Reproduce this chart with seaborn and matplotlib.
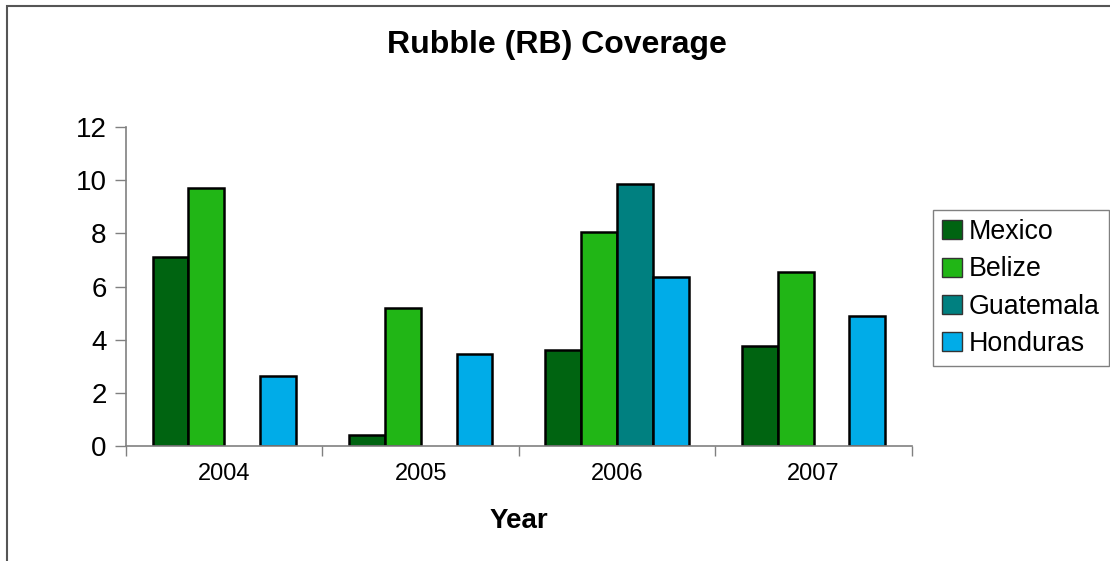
import matplotlib
matplotlib.use("Agg")
import matplotlib.pyplot as plt
from matplotlib.patches import Rectangle
import numpy as np
import pandas as pd
import seaborn as sns

years = ["2004", "2005", "2006", "2007"]
countries = ["Mexico", "Belize", "Guatemala", "Honduras"]
mexico = [7.1, 0.4, 3.6, 3.75]
belize = [9.7, 5.2, 8.05, 6.55]
guatemala = [np.nan, np.nan, 9.85, np.nan]
honduras = [2.65, 3.45, 6.35, 4.9]
colors = ["#006411", "#21B616", "#008080", "#00ACE8"]

df = pd.DataFrame({
    "Year": years * 4,
    "Country": [c for c in countries for _ in years],
    "Coverage": mexico + belize + guatemala + honduras,
})

sns.set_theme(style="white")
plt.rcParams["font.family"] = ["Liberation Sans", "DejaVu Sans"]
plt.rcParams["text.color"] = "black"
plt.rcParams["axes.labelcolor"] = "black"

fig = plt.figure(figsize=(11.1, 5.61), dpi=100)
ax = fig.add_axes([0.1135, 0.205, 0.708, 0.5686])

sns.barplot(data=df, x="Year", y="Coverage", hue="Country", order=years,
            hue_order=countries, palette=colors, width=0.73, saturation=1,
            edgecolor="black", linewidth=1.8, ax=ax)

ax.set_xlim(-0.5, 3.5)
ax.set_ylim(0, 12)
ax.set_yticks(range(0, 13, 2))
ax.tick_params(axis="y", labelsize=20, length=8, width=1, color="#808080",
               direction="out", left=True, pad=6, labelcolor="black")
ax.set_xticks(range(4))
ax.set_xticklabels(years)
ax.set_xticks(np.arange(-0.5, 4.0, 1.0), minor=True)
ax.tick_params(axis="x", which="major", length=0, labelsize=17, pad=12,
               labelcolor="black")
ax.tick_params(axis="x", which="minor", length=7, width=1, color="#808080",
               direction="out", bottom=True)

for side in ("top", "right"):
    ax.spines[side].set_visible(False)
for side in ("left", "bottom"):
    ax.spines[side].set_color("#808080")
    ax.spines[side].set_linewidth(1.2)

ax.set_ylabel("")
ax.set_xlabel("Year", fontsize=20, fontweight="bold", labelpad=17,
              color="black")
fig.text(0.502, 0.92, "Rubble (RB) Coverage", ha="center", va="center",
         fontsize=23, fontweight="bold", color="black")

handles, labels = ax.get_legend_handles_labels()
ax.legend(handles, labels, loc="upper left", bbox_to_anchor=(0.8405, 0.626),
          bbox_transform=fig.transFigure, fontsize=19.3, frameon=True,
          fancybox=False, edgecolor="#808080", framealpha=1,
          handlelength=0.72, handleheight=0.72, handletextpad=0.25,
          labelspacing=0.42, borderpad=0.35, borderaxespad=0,
          labelcolor="black")
leg = ax.get_legend()
leg.get_frame().set_linewidth(1.0)
for h in leg.legend_handles:
    h.set_linewidth(1.0)
    h.set_edgecolor("#333333")

# outer chart frame
fig.patches.append(Rectangle((7 / 1110, -0.1), 1.2, 1 - 6 / 561 + 0.1,
                             transform=fig.transFigure, fill=False,
                             edgecolor="#555555", linewidth=1.5, zorder=0))

fig.savefig("out.png", dpi=100)
